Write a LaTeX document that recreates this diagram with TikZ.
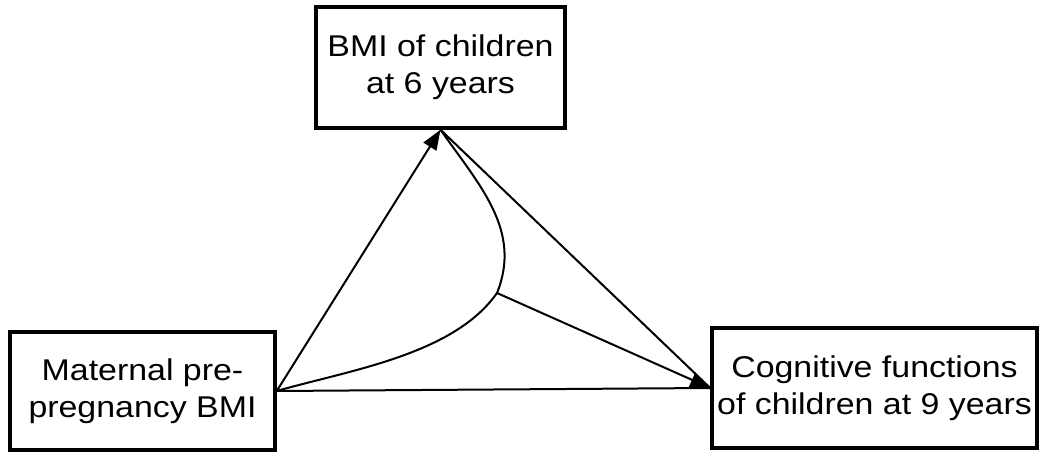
\documentclass[tikz,border=0pt]{standalone}
\usepackage{fontspec}
\setmainfont[FakeStretch=1.13]{Liberation Sans}
\usetikzlibrary{arrows.meta}

\begin{document}
\begin{tikzpicture} [x=1pt, y=1pt,
	box/.style={draw, line width=3.5pt, align=center, inner sep=0pt,
		font=\fontsize{30}{37}\selectfont},
	link/.style={line width=2pt},
	tip/.style={-{Triangle[length=20pt, width=15pt]}}]
	\useasboundingbox (0,0) rectangle (1039,453);
	
	% the three variables
	\node[box, minimum width=265, minimum height=118] (maternal) at (142.5,62) {Maternal pre-\\pregnancy BMI};
	\node[box, minimum width=249, minimum height=121] (childbmi) at (440.5,385.5) {BMI of children\\at 6 years};
	\node[box, minimum width=325, minimum height=120] (cognition) at (874.5,65) {Cognitive functions\\of children at 9 years};
	\coordinate (junction) at (497,160);
	
	% paths
	\draw[link, tip] (maternal.east) -- (childbmi.south);
	\draw[link] (maternal.east) -- (cognition.west);
	\draw[link] (childbmi.south) -- (cognition.west);
	\draw[link] (childbmi.south) to[out=-55, in=68] (junction) to[out=-125, in=16, looseness=0.8] (maternal.east);
	\draw[link, tip] (junction) -- (cognition.west);
	
\end{tikzpicture}
\end{document}
